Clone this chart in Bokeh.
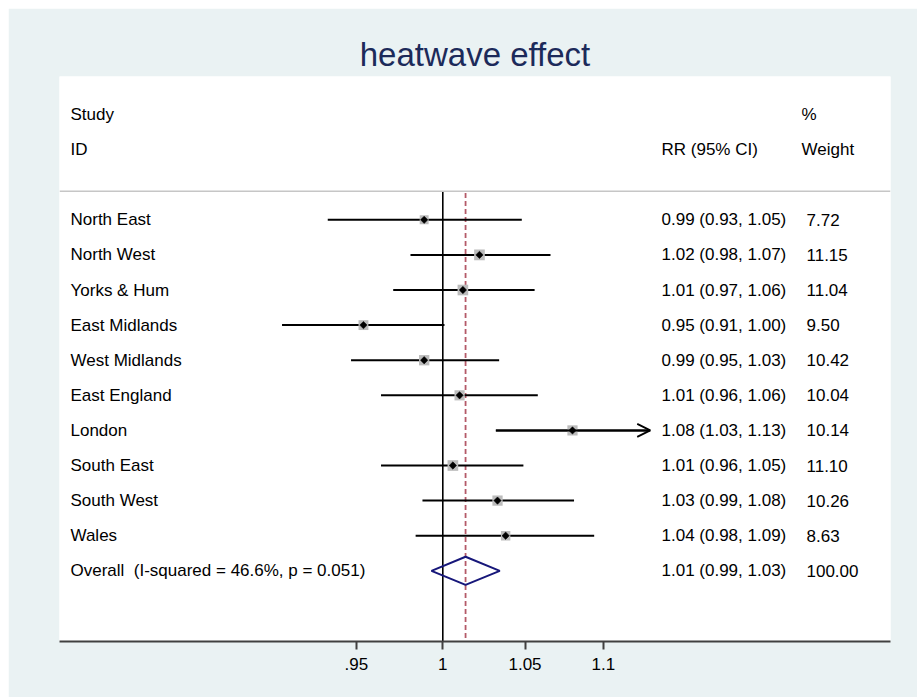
import math
from bokeh.plotting import figure
from bokeh.layouts import column, row
from bokeh.models import (Range1d, FixedTicker, Span, Arrow, OpenHead, Title,
                          ColumnDataSource, Spacer)
from bokeh.core.properties import value
from bokeh.embed import file_html
from bokeh.resources import INLINE

# ---------------- data ----------------
regions = ["North East", "North West", "Yorks & Hum", "East Midlands", "West Midlands",
           "East England", "London", "South East", "South West", "Wales"]
rr = [0.989, 1.022, 1.012, 0.954, 0.989, 1.010, 1.080, 1.006, 1.033, 1.038]
lower = [0.934, 0.981, 0.971, 0.909, 0.947, 0.964, 1.032, 0.964, 0.988, 0.984]
upper = [1.048, 1.066, 1.056, 1.001, 1.034, 1.058, 1.131, 1.049, 1.081, 1.094]
weights = [7.72, 11.15, 11.04, 9.50, 10.42, 10.04, 10.14, 11.10, 10.26, 8.63]
overall_label = "Overall\u00a0 (I-squared = 46.6%, p = 0.051)"
overall_rr = 1.0136
overall_lower = 0.9933
overall_upper = 1.0344
overall_weight = 100.00
tick_values = [0.95, 1, 1.05, 1.1]
tick_labels = [".95", "1", "1.05", "1.1"]
clip_upper = 1.125  # CIs beyond this are drawn with an arrow

# ---------------- layout constants ----------------
PX_ONE = 442.3      # page pixel of x = 1
PPU = 1685.0        # pixels per ln unit
FRAME_L, FRAME_R = 59, 890


def px_to_x(px):
    return math.exp((px - PX_ONE) / PPU)


FONT_NAME = "Liberation Sans"
FONT = value(FONT_NAME)
FS = "17px"
TXT = "#000000"

n = len(regions)
rows = list(range(1, n + 1))
overall_row = n + 1
sep_row = 0.185
y_top, y_bot = -3.083, 13.014

p = figure(width=909, height=689, output_backend="svg", toolbar_location=None,
           x_axis_type="log", y_axis_location=None,
           x_range=Range1d(px_to_x(FRAME_L), px_to_x(FRAME_R)),
           y_range=Range1d(y_bot, y_top),
           min_border_left=51, min_border_right=27, min_border_top=68, min_border_bottom=56)
p.border_fill_color = "#eaf2f3"
p.background_fill_color = "white"
p.outline_line_color = None
p.xgrid.visible = False
p.ygrid.visible = False

t = Title(text="heatwave effect", align="center", text_font=FONT_NAME, text_font_size="33px",
          text_font_style="normal", text_color="#1c2a5a", standoff=8)
p.add_layout(t, "above")

# axis
ax = p.xaxis[0]
ax.ticker = FixedTicker(ticks=tick_values)
ax.major_label_overrides = {v: l for v, l in zip(tick_values, tick_labels)}
ax.axis_line_color = "#404040"
ax.axis_line_width = 2
ax.major_tick_line_color = "#404040"
ax.major_tick_line_width = 2
ax.major_tick_out = 8
ax.major_tick_in = 0
ax.minor_tick_out = 0
ax.minor_tick_in = 0
ax.major_label_standoff = 8
ax.major_label_text_font = FONT_NAME
ax.major_label_text_font_size = FS
ax.major_label_text_color = TXT

# separator
p.add_layout(Span(location=sep_row, dimension="width", line_color="#c6c6c6", line_width=1.5))

# reference lines
p.segment(x0=[1], y0=[sep_row], x1=[1], y1=[y_bot], line_color="black", line_width=1.6)
p.segment(x0=[overall_rr], y0=[sep_row + 0.05], x1=[overall_rr], y1=[y_bot],
          line_color="#b45a68", line_width=1.8, line_dash="5 3")

# CIs
src = ColumnDataSource(dict(y=rows, rr=rr, lo=lower, hi=upper,
                            sz=[3.2 * math.sqrt(w) for w in weights]))
p.segment(x0="lo", y0="y", x1="hi", y1="y", source=src, line_color="black", line_width=2)
for r, lo, hi in zip(rows, lower, upper):
    if hi > clip_upper:
        p.add_layout(Arrow(end=OpenHead(size=13, line_width=1.8, line_color="black"),
                           x_start=lo, y_start=r, x_end=hi, y_end=r,
                           line_width=2, line_color="black"))
p.scatter(x="rr", y="y", size="sz", marker="square", source=src,
          fill_color="#bcbcbc", line_color=None)
p.scatter(x="rr", y="y", size=5.2, marker="square", angle=math.pi / 4, source=src,
          fill_color="black", line_color="black", line_width=0.5)

# overall diamond
dh = 0.4
p.patch(x=[overall_lower, overall_rr, overall_upper, overall_rr, overall_lower],
        y=[overall_row, overall_row - dh, overall_row, overall_row + dh, overall_row],
        fill_color=None, line_color="#17177a", line_width=2)

# text columns
x_lab = px_to_x(70)
x_rr = px_to_x(661)
x_w = px_to_x(806)
x_wh = px_to_x(801)

labels = regions + [overall_label]
rr_txt = [f"{a:.2f} ({b:.2f}, {c:.2f})" for a, b, c in zip(rr, lower, upper)] + \
         [f"{overall_rr:.2f} ({overall_lower:.2f}, {overall_upper:.2f})"]
w_txt = [f"{w:.2f}" for w in weights] + [f"{overall_weight:.2f}"]
all_rows = rows + [overall_row]

common = dict(text_font=FONT, text_font_size=FS, text_color=TXT,
              text_baseline="middle", text_align="left")
p.text(x=[x_lab] * len(labels), y=all_rows, text=labels, **common)
p.text(x=[x_rr] * len(rr_txt), y=all_rows, text=rr_txt, **common)
p.text(x=[x_w] * len(w_txt), y=all_rows, text=w_txt, **common)

# headers
p.text(x=[x_lab, x_lab], y=[-2, -1], text=["Study", "ID"], **common)
p.text(x=[x_rr], y=[-1], text=["RR (95% CI)"], **common)
p.text(x=[x_wh, x_wh], y=[-2, -1], text=["%", "Weight"], **common)

layout = column(Spacer(width=917, height=8),
                row(Spacer(width=8, height=689), p))

open("out.html", "w").write(file_html(layout, INLINE))
